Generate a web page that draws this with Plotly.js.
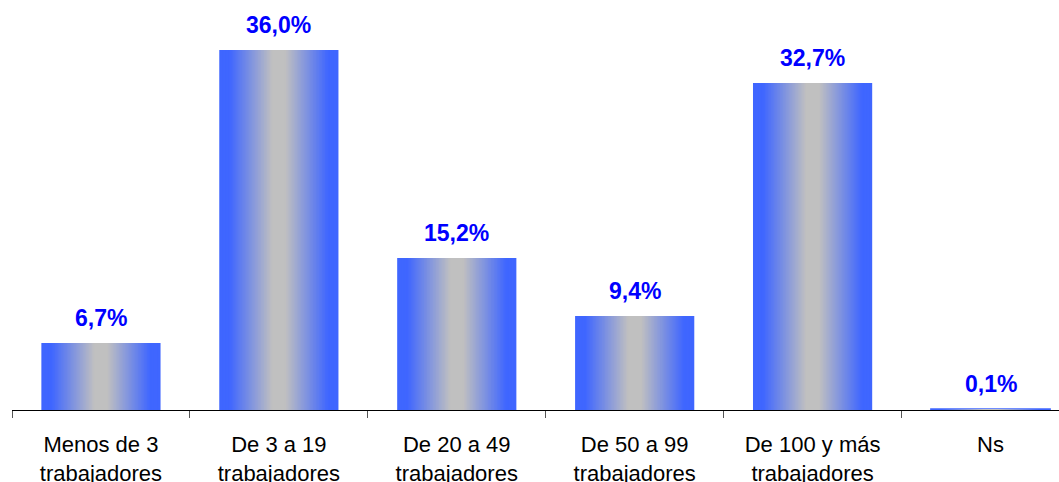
<!DOCTYPE html>
<html>
<head>
<meta charset="utf-8">
<script src="https://cdn.plot.ly/plotly-3.0.1.min.js"></script>
<style>
  html, body { margin: 0; padding: 0; background: #ffffff; }
  #chart { width: 1059px; height: 482px; }
</style>
</head>
<body>
<div id="chart"></div>
<script>
// ---- data ----
const categories = [
  "Menos de 3<br>trabajadores",
  "De 3 a 19<br>trabajadores",
  "De 20 a 49<br>trabajadores",
  "De 50 a 99<br>trabajadores",
  "De 100 y más<br>trabajadores",
  "Ns"
];
const values = [6.7, 36.0, 15.2, 9.4, 32.7, 0.1];
const valueLabels = ["6,7%", "36,0%", "15,2%", "9,4%", "32,7%", "0,1%"];

// ---- style ----
const BAR_WIDTH = 0.67;
const N_LAYERS = 40;
const BLUE = [63, 102, 255];
const GRAY = [192, 192, 192];

function mix(t) {
  const c = BLUE.map((b, i) => Math.round(GRAY[i] + (b - GRAY[i]) * t));
  return `rgb(${c[0]},${c[1]},${c[2]})`;
}

const traces = [];
for (let k = 0; k < N_LAYERS; k++) {
  const d = 1 - k / N_LAYERS;          // 1 = edge, ->0 = center
  let t = (d - 0.12) / 0.72;
  t = Math.max(0, Math.min(1, t));
  const isOuter = k === 0;
  traces.push({
    type: 'bar',
    x: categories,
    y: values,
    width: BAR_WIDTH * d,
    marker: {
      color: mix(t),
      line: {
        width: isOuter ? values.map(v => (v < 0.5 ? 1.5 : 0)) : 0,
        color: mix(1)
      }
    },
    hoverinfo: 'skip',
    showlegend: false
  });
}

const annotations = categories.map((c, i) => ({
  x: c,
  y: values[i],
  xref: 'x',
  yref: 'y',
  text: valueLabels[i],
  showarrow: false,
  yanchor: 'bottom',
  yshift: 10,
  font: { family: 'Liberation Sans, Arial, sans-serif', size: 23, color: '#0000FF', weight: 'bold' }
}));

const layout = {
  width: 1059,
  height: 482,
  margin: { l: 11.5, r: 0, t: 0, b: 72 },
  paper_bgcolor: '#ffffff',
  plot_bgcolor: '#ffffff',
  barmode: 'overlay',
  showlegend: false,
  font: { family: 'Liberation Sans, Arial, sans-serif', color: '#000000' },
  xaxis: {
    type: 'category',
    range: [-0.5, 5.385],
    tickson: 'boundaries',
    ticks: 'outside',
    ticklen: 7,
    tickwidth: 1,
    tickcolor: '#555555',
    showline: true,
    linecolor: '#000000',
    linewidth: 1,
    showgrid: false,
    zeroline: false,
    ticklabelstandoff: 15,
    tickfont: { size: 22, color: '#000000' },
    fixedrange: true
  },
  yaxis: {
    range: [0, 41],
    visible: false,
    showgrid: false,
    zeroline: false,
    fixedrange: true
  },
  annotations: annotations
};

Plotly.newPlot('chart', traces, layout, { displayModeBar: false, staticPlot: true });
</script>
</body>
</html>
